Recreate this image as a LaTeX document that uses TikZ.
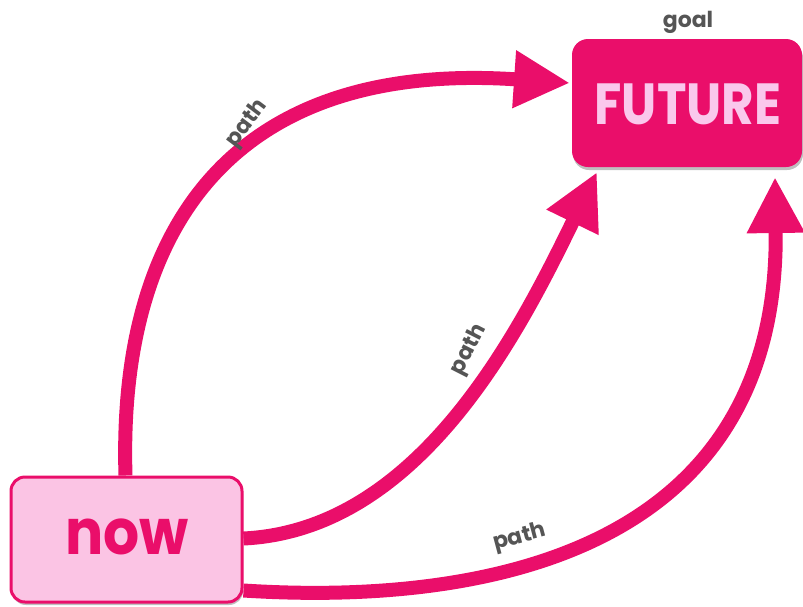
\documentclass[tikz,border=0pt]{standalone}
\usepackage{fontspec}
\setmainfont{Poppins}
\usetikzlibrary{arrows.meta,shadows}
\definecolor{deep}{RGB}{234,14,106}
\definecolor{lightp}{RGB}{251,196,228}
\definecolor{futtxt}{RGB}{250,200,236}
\definecolor{labgray}{RGB}{85,85,85}
\tikzset{
  conn/.style={draw=deep, line width=14pt,
    -{Triangle[length=56pt,width=54pt]}},
  lab/.style={text=labgray, font=\fontsize{22}{22}\selectfont\bfseries, inner sep=0pt},
  futbox/.style={fill=deep, rounded corners=16pt, minimum width=230pt,
    minimum height=128pt, inner sep=0pt,
    drop shadow={shadow xshift=1pt, shadow yshift=-3pt, opacity=0.25, fill=black}},
  nowbox/.style={fill=lightp, draw=deep, line width=3pt, rounded corners=14pt,
    minimum width=231pt, minimum height=125pt, inner sep=0pt,
    drop shadow={shadow xshift=1pt, shadow yshift=-3pt, opacity=0.25, fill=black}}
}
\begin{document}
\begin{tikzpicture}[x=1pt,y=-1pt]
\useasboundingbox (0,0) rectangle (803,606);
\node[futbox] (future) at (687,103) {};
\node[text=futtxt, inner sep=0pt] (futtext) at (688,104)
  {\scalebox{0.86}[1]{\fontsize{58}{58}\selectfont\bfseries FUTURE}};
\node[lab] (goal) at (688,22) {goal};
\node[nowbox] (now) at (126.5,539.5) {};
\node[text=deep, inner sep=0pt] (nowtext) at (127,537)
  {\scalebox{0.9}[1]{\fontsize{63}{63}\selectfont\bfseries now}};
\coordinate (t1) at (570,83);
\coordinate (t2) at (597,172);
\coordinate (t3) at (775,177);
\draw[conn] ([xshift=-1pt]now.north) .. controls (118,230) and (230,60) .. (t1);
\draw[conn] ([yshift=1pt]now.east) .. controls (420,530) and (520,330) .. (t2);
\draw[conn] ([yshift=13pt]now.south east) .. controls (470,605) and (780,560) .. (t3);
\node[lab, rotate=53] (p1) at (247,124) {path};
\node[lab, rotate=63] (p2) at (469,350) {path};
\node[lab, rotate=15] (p3) at (520,538) {path};
\end{tikzpicture}
\end{document}
